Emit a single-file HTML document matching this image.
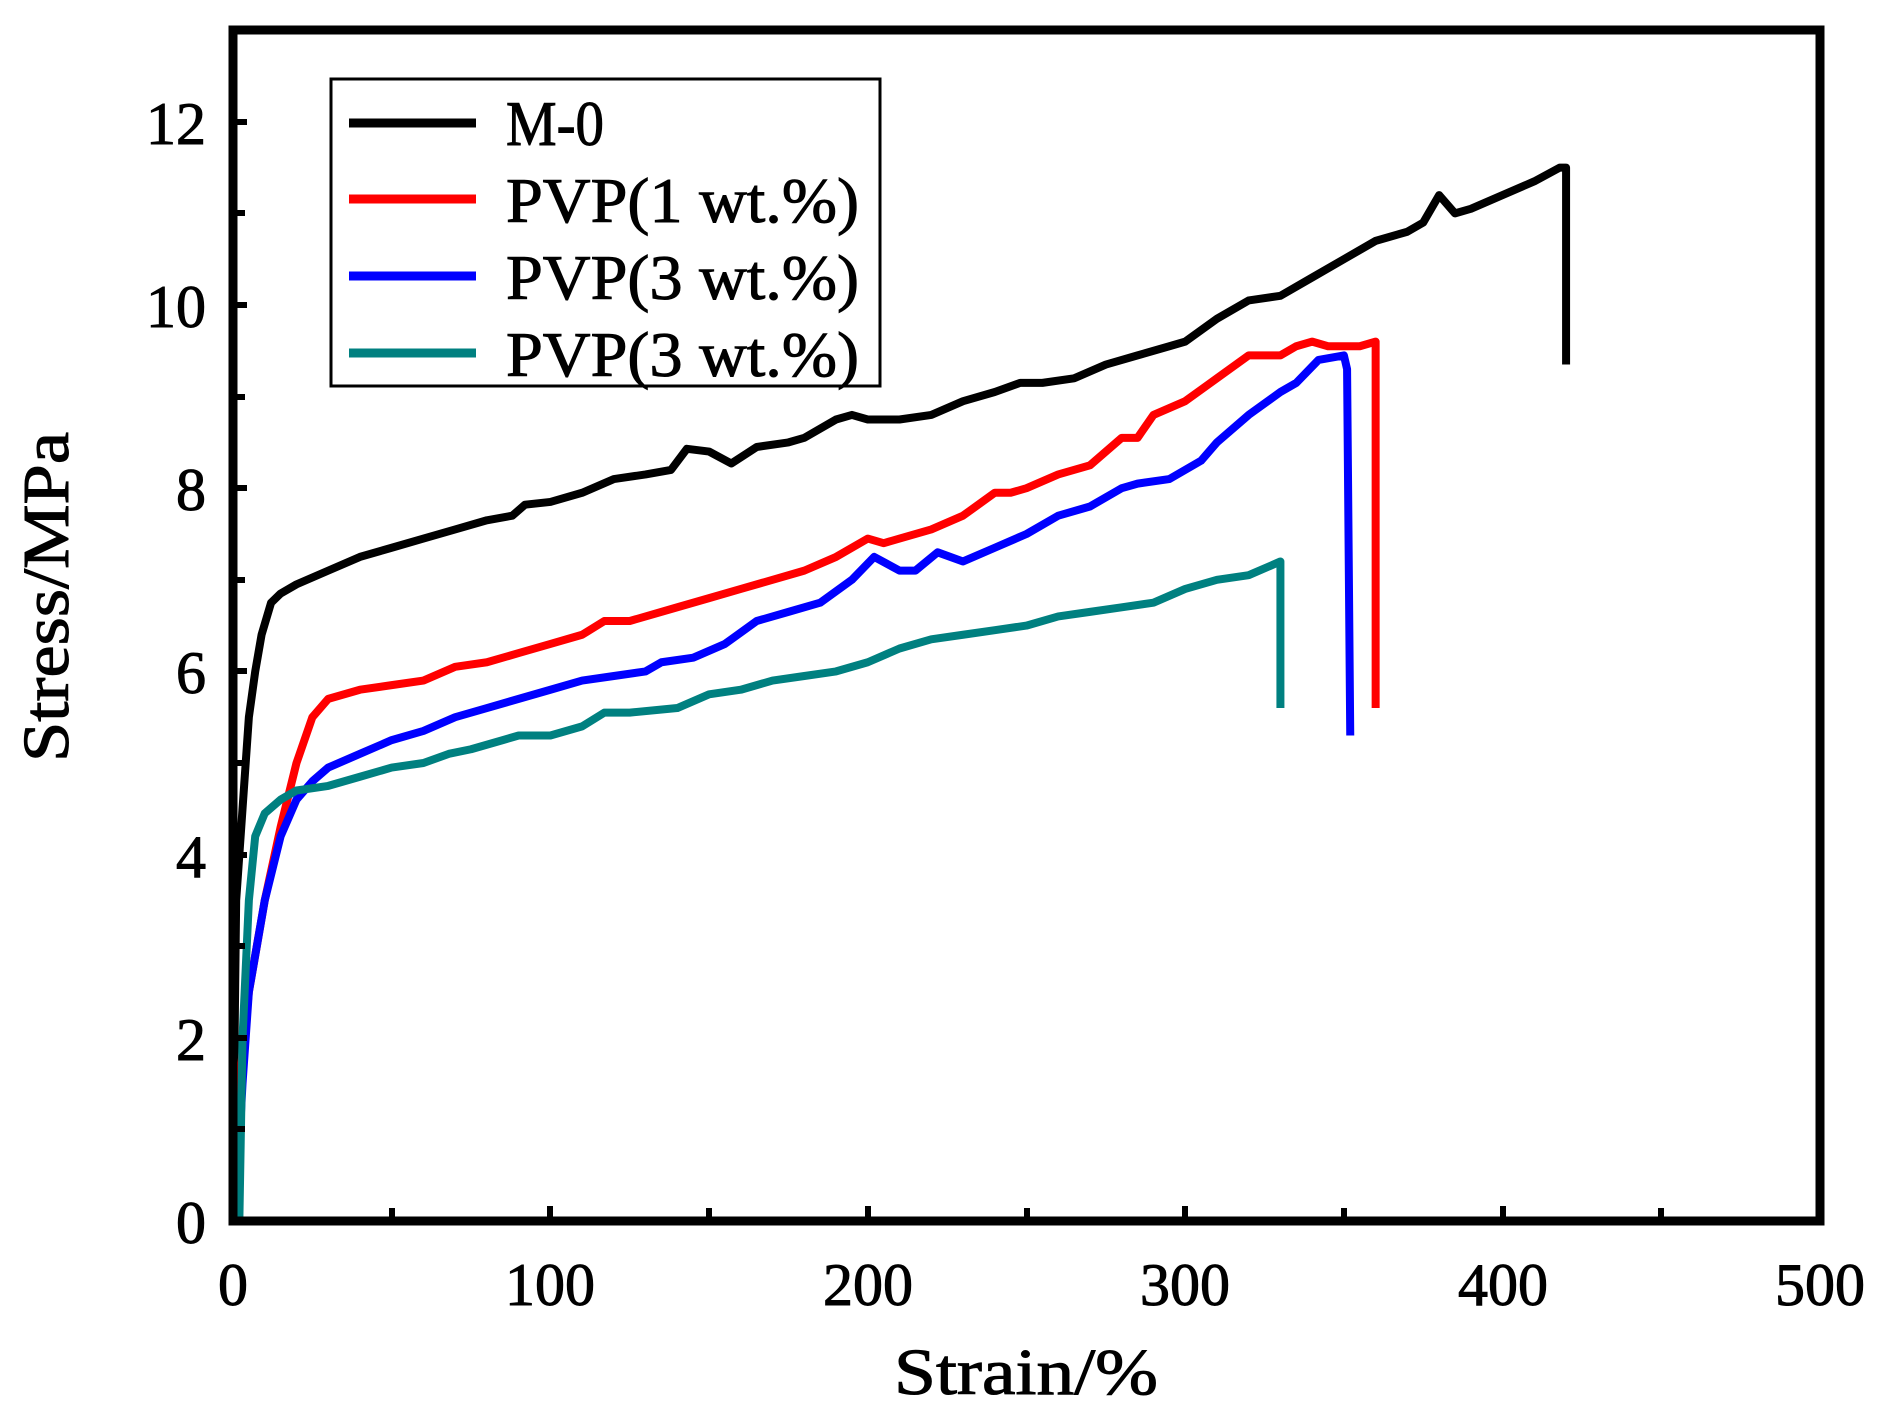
<!DOCTYPE html>
<html><head><meta charset="utf-8"><style>html,body{margin:0;padding:0;background:#fff}svg{display:block}</style></head>
<body>
<svg width="1881" height="1423" viewBox="0 0 1881 1423" xmlns="http://www.w3.org/2000/svg">
<rect width="1881" height="1423" fill="#fff"/>
<g transform="translate(233,1221) scale(3.174,-91.6)" fill="none" stroke-linejoin="round" stroke-linecap="butt">
<polyline vector-effect="non-scaling-stroke" stroke="#000" stroke-width="8" points="0,0 0.5,2 1,3.5 3,4.5 5,5.5 7,6.0 9,6.4 12,6.75 15,6.85 20,6.95 30,7.1 40,7.25 50,7.35 60,7.45 70,7.55 80,7.65 88,7.7 92,7.82 100,7.85 110,7.95 120,8.1 130,8.15 138,8.2 143,8.43 150,8.4 157,8.27 165,8.45 175,8.5 180,8.55 190,8.75 195,8.8 200,8.75 210,8.75 220,8.8 230,8.95 240,9.05 248,9.15 255,9.15 265,9.2 275,9.35 285,9.45 295,9.55 300,9.6 310,9.85 320,10.05 330,10.1 340,10.3 350,10.5 360,10.7 370,10.8 375,10.9 380,11.2 385,11.0 390,11.05 400,11.2 410,11.35 418,11.5 420,11.5 420,9.35"/>
<polyline vector-effect="non-scaling-stroke" stroke="#f00" stroke-width="8" points="0,0.4 2,1.5 5,2.5 10,3.5 15,4.3 20,5.0 25,5.5 30,5.7 40,5.8 50,5.85 60,5.9 70,6.05 80,6.1 90,6.2 100,6.3 110,6.4 117,6.55 125,6.55 140,6.7 150,6.8 160,6.9 170,7.0 180,7.1 190,7.25 200,7.45 205,7.4 210,7.45 220,7.55 230,7.7 240,7.95 245,7.95 250,8.0 260,8.15 270,8.25 280,8.55 285,8.55 290,8.8 300,8.95 310,9.2 320,9.45 330,9.45 335,9.55 340,9.6 345,9.55 355,9.55 360,9.6 360,5.6"/>
<polyline vector-effect="non-scaling-stroke" stroke="#00f" stroke-width="8" points="1,0.2 3,1.5 5,2.5 10,3.5 15,4.2 20,4.6 25,4.8 30,4.95 40,5.1 50,5.25 60,5.35 70,5.5 80,5.6 90,5.7 100,5.8 110,5.9 120,5.95 130,6.0 135,6.1 145,6.15 155,6.3 165,6.55 175,6.65 185,6.75 195,7.0 202,7.25 210,7.1 215,7.1 222,7.3 230,7.2 240,7.35 250,7.5 260,7.7 270,7.8 280,8.0 285,8.05 295,8.1 305,8.3 310,8.5 320,8.8 330,9.05 335,9.15 342,9.4 350,9.45 351,9.3 352,5.3"/>
<polyline vector-effect="non-scaling-stroke" stroke="#008080" stroke-width="8" points="2,0 3,2 5,3.5 7,4.2 10,4.45 15,4.6 20,4.7 30,4.75 40,4.85 50,4.95 60,5.0 68,5.1 75,5.15 85,5.25 90,5.3 100,5.3 110,5.4 117,5.55 125,5.55 140,5.6 150,5.75 160,5.8 170,5.9 180,5.95 190,6.0 200,6.1 210,6.25 220,6.35 230,6.4 240,6.45 250,6.5 260,6.6 270,6.65 280,6.7 290,6.75 300,6.9 310,7.0 320,7.05 330,7.2 330,5.6"/>
</g>
<rect x="233" y="30" width="1587" height="1191" fill="none" stroke="#000" stroke-width="9"/>
<g stroke="#000" stroke-width="6">
<line x1="392" y1="1221" x2="392" y2="1208"/><line x1="550" y1="1221" x2="550" y2="1206"/><line x1="709" y1="1221" x2="709" y2="1208"/><line x1="868" y1="1221" x2="868" y2="1206"/><line x1="1027" y1="1221" x2="1027" y2="1208"/><line x1="1185" y1="1221" x2="1185" y2="1206"/><line x1="1344" y1="1221" x2="1344" y2="1208"/><line x1="1503" y1="1221" x2="1503" y2="1206"/><line x1="1661" y1="1221" x2="1661" y2="1208"/>
<line x1="233" y1="1129" x2="245" y2="1129"/><line x1="233" y1="1038" x2="247" y2="1038"/><line x1="233" y1="946" x2="245" y2="946"/><line x1="233" y1="855" x2="247" y2="855"/><line x1="233" y1="763" x2="245" y2="763"/><line x1="233" y1="671" x2="247" y2="671"/><line x1="233" y1="580" x2="245" y2="580"/><line x1="233" y1="488" x2="247" y2="488"/><line x1="233" y1="397" x2="245" y2="397"/><line x1="233" y1="305" x2="247" y2="305"/><line x1="233" y1="213" x2="245" y2="213"/><line x1="233" y1="122" x2="247" y2="122"/>
</g>
<g font-family="Liberation Serif, serif" font-size="60" fill="#000" stroke="#000" stroke-width="1">
<g text-anchor="end">
<text x="206" y="1243">0</text><text x="206" y="1060">2</text><text x="206" y="877">4</text><text x="206" y="693">6</text><text x="206" y="510">8</text><text x="206" y="327">10</text><text x="206" y="144">12</text>
</g>
<g text-anchor="middle">
<text x="233" y="1305">0</text><text x="550" y="1305">100</text><text x="868" y="1305">200</text><text x="1185" y="1305">300</text><text x="1503" y="1305">400</text><text x="1820" y="1305">500</text>
</g>
<text x="894" y="1394" font-size="66" textLength="264" lengthAdjust="spacingAndGlyphs">Strain/%</text>
<text transform="translate(68,762) rotate(-90)" font-size="66" textLength="330" lengthAdjust="spacingAndGlyphs">Stress/MPa</text>
</g>
<rect x="331" y="79" width="549" height="307" fill="#fff" stroke="#000" stroke-width="3"/>
<g stroke-width="9"><line x1="349" y1="123" x2="476" y2="123" stroke="#000"/><line x1="349" y1="199" x2="476" y2="199" stroke="#f00"/><line x1="349" y1="276" x2="476" y2="276" stroke="#00f"/><line x1="349" y1="353" x2="476" y2="353" stroke="#008080"/></g>
<g font-family="Liberation Serif, serif" font-size="64" fill="#000" stroke="#000" stroke-width="1">
<text x="506" y="145" textLength="98" lengthAdjust="spacingAndGlyphs">M-0</text>
<text x="506" y="222" textLength="353" lengthAdjust="spacingAndGlyphs">PVP(1 wt.%)</text>
<text x="506" y="299" textLength="353" lengthAdjust="spacingAndGlyphs">PVP(3 wt.%)</text>
<text x="506" y="376" textLength="353" lengthAdjust="spacingAndGlyphs">PVP(3 wt.%)</text>
</g>
</svg>
</body></html>
